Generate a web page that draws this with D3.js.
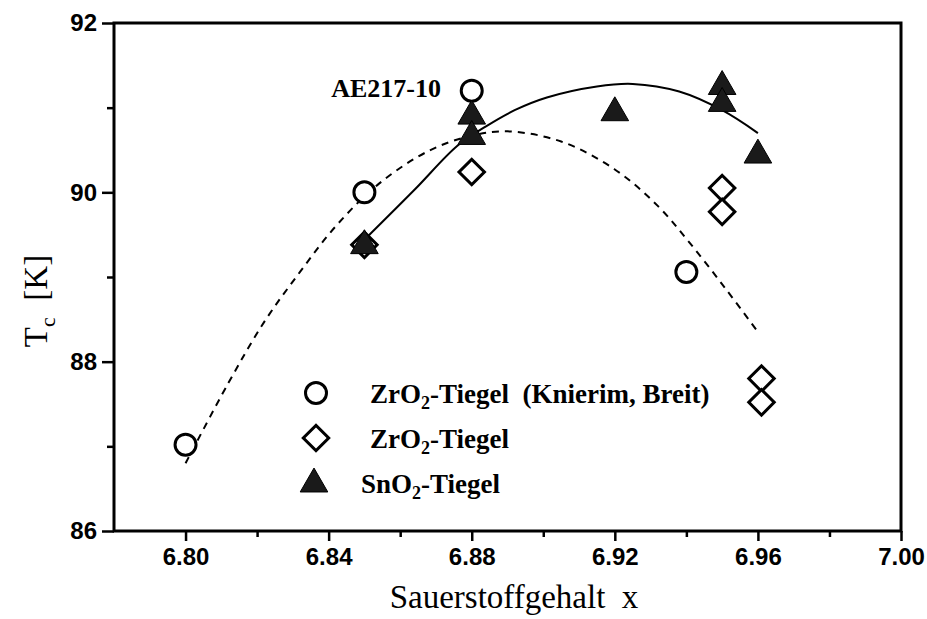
<!DOCTYPE html>
<html lang="de">
<head>
  <meta charset="UTF-8" />
  <title>Tc vs Sauerstoffgehalt</title>
  <script src="https://d3js.org/d3.v7.min.js"></script>
  <style>
    body { margin: 0; background: #fff; }
    .tick text { font-family: "Liberation Sans", Arial, sans-serif; font-weight: bold; font-size: 24px; fill: #000; }
    .serif { font-family: "Liberation Serif", "Times New Roman", serif; fill: #000; }
  </style>
</head>
<body>
<svg id="chart" width="927" height="619"></svg>
<script>
// tick values
const xMajor = [6.80, 6.84, 6.88, 6.92, 6.96, 7.00];
const xMinor = [6.82, 6.86, 6.90, 6.94, 6.98];
const yMajor = [86, 88, 90, 92];
const yMinor = [87, 89, 91];

// ZrO2-Tiegel (Knierim, Breit) - open circles
const knierimX = [6.80, 6.85, 6.88, 6.94];
const knierimY = [87.02, 90.0, 91.2, 89.06];

// ZrO2-Tiegel - open diamonds
const zro2X = [6.85, 6.88, 6.95, 6.95, 6.961, 6.961];
const zro2Y = [89.38, 90.24, 90.05, 89.77, 87.80, 87.52];

// SnO2-Tiegel - filled triangles
const sno2X = [6.85, 6.88, 6.88, 6.92, 6.95, 6.95, 6.96];
const sno2Y = [89.37, 90.9, 90.66, 90.94, 91.25, 91.05, 90.44];

// fitted curves
const dashX = [6.800, 6.812, 6.822, 6.832, 6.842, 6.854, 6.868, 6.880, 6.890, 6.905, 6.920, 6.932, 6.941, 6.951, 6.960];
const dashY = [86.80, 87.75, 88.47, 89.06, 89.60, 90.10, 90.49, 90.67, 90.72, 90.60, 90.27, 89.84, 89.40, 88.86, 88.35];
const solidX = [6.850, 6.864, 6.876, 6.884, 6.892, 6.901, 6.915, 6.925, 6.938, 6.950, 6.960];
const solidY = [89.44, 90.03, 90.55, 90.78, 90.97, 91.12, 91.25, 91.28, 91.19, 90.97, 90.70];

const svg = d3.select("#chart");
const margin = {left: 114, right: 26, top: 23, bottom: 88};
const W = +svg.attr("width"), H = +svg.attr("height");

const x = d3.scaleLinear().domain([6.78, 7.00]).range([margin.left, W - margin.right]);
const y = d3.scaleLinear().domain([86, 92]).range([H - margin.bottom, margin.top]);

// axes
const gx = svg.append("g").attr("transform", `translate(0,${y(86)})`);
gx.call(d3.axisBottom(x).tickValues(xMajor).tickSize(10).tickPadding(7).tickFormat(d3.format(".2f")));
gx.append("g").call(d3.axisBottom(x).tickValues(xMinor).tickSize(6).tickFormat(""));

const gy = svg.append("g").attr("transform", `translate(${x(6.78)},0)`);
gy.call(d3.axisLeft(y).tickValues(yMajor).tickSize(12).tickPadding(5).tickFormat(d3.format("d")));
gy.append("g").call(d3.axisLeft(y).tickValues(yMinor).tickSize(7).tickFormat(""));

svg.selectAll(".domain").remove();
svg.selectAll(".tick line").attr("stroke", "#000").attr("stroke-width", 2.5);

// frame
svg.append("rect")
  .attr("x", x(6.78)).attr("y", y(92))
  .attr("width", x(7.00) - x(6.78)).attr("height", y(86) - y(92))
  .attr("fill", "none").attr("stroke", "#000").attr("stroke-width", 3);

// curves
const line = (xs, ys) => d3.line().curve(d3.curveCatmullRom)(xs.map((v, i) => [x(v), y(ys[i])]));
svg.append("path").attr("d", line(dashX, dashY))
  .attr("fill", "none").attr("stroke", "#000").attr("stroke-width", 2).attr("stroke-dasharray", "7,6");
svg.append("path").attr("d", line(solidX, solidY))
  .attr("fill", "none").attr("stroke", "#000").attr("stroke-width", 2);

// markers
const circleSym = d3.symbol().type(d3.symbolCircle).size(Math.PI * 10.5 * 10.5);
const diamondSym = d3.symbol().type(d3.symbolSquare).size(18 * 18);
const triSym = d3.symbol().type(d3.symbolTriangle).size(330);

function drawCircle(g, px, py) {
  g.append("path").attr("d", circleSym()).attr("transform", `translate(${px},${py})`)
    .attr("fill", "#fff").attr("stroke", "#000").attr("stroke-width", 3);
}
function drawDiamond(g, px, py) {
  g.append("path").attr("d", diamondSym()).attr("transform", `translate(${px},${py}) rotate(45)`)
    .attr("fill", "#fff").attr("stroke", "#000").attr("stroke-width", 3);
}
function drawTri(g, px, py) {
  g.append("path").attr("d", triSym()).attr("transform", `translate(${px},${py})`)
    .attr("fill", "#1a1a1a").attr("stroke", "#000").attr("stroke-width", 1);
}

const pts = svg.append("g");
knierimX.forEach((v, i) => drawCircle(pts, x(v), y(knierimY[i])));
zro2X.forEach((v, i) => drawDiamond(pts, x(v), y(zro2Y[i])));
sno2X.forEach((v, i) => drawTri(pts, x(v), y(sno2Y[i])));

// annotation
svg.append("text").attr("class", "serif").attr("fill", "#000")
  .attr("x", 441).attr("y", 97).attr("text-anchor", "end")
  .attr("font-size", 26).attr("font-weight", "bold")
  .text("AE217-10");

// legend
const leg = svg.append("g");
drawCircle(leg, 316, 393);
drawDiamond(leg, 316, 438);
drawTri(leg, 314, 484);

function legText(xp, yp, parts) {
  const t = leg.append("text").attr("class", "serif").attr("fill", "#000")
    .attr("x", xp).attr("y", yp).attr("font-size", 27).attr("font-weight", "bold");
  parts.forEach(p => {
    const s = t.append("tspan").text(p.t);
    if (p.sub) s.attr("font-size", 18).attr("dy", 6);
    else if (p.back) s.attr("dy", -6);
  });
}
legText(370, 403, [{t: "ZrO"}, {t: "2", sub: true}, {t: "-Tiegel\u00a0\u00a0(Knierim, Breit)", back: true}]);
legText(370, 448, [{t: "ZrO"}, {t: "2", sub: true}, {t: "-Tiegel", back: true}]);
legText(361, 493, [{t: "SnO"}, {t: "2", sub: true}, {t: "-Tiegel", back: true}]);

// axis titles
svg.append("text").attr("class", "serif").attr("fill", "#000")
  .attr("x", 514).attr("y", 608)
  .attr("text-anchor", "middle").attr("font-size", 33)
  .text("Sauerstoffgehalt\u00a0\u00a0x");

const yt = svg.append("text").attr("class", "serif").attr("fill", "#000")
  .attr("transform", `translate(47,${(y(86) + y(92)) / 2 + 24}) rotate(-90)`)
  .attr("text-anchor", "middle").attr("font-size", 33);
yt.append("tspan").text("T");
yt.append("tspan").text("c").attr("font-size", 22).attr("dy", 8);
yt.append("tspan").text("\u00a0\u00a0[K]").attr("dy", -8);
</script>
</body>
</html>
